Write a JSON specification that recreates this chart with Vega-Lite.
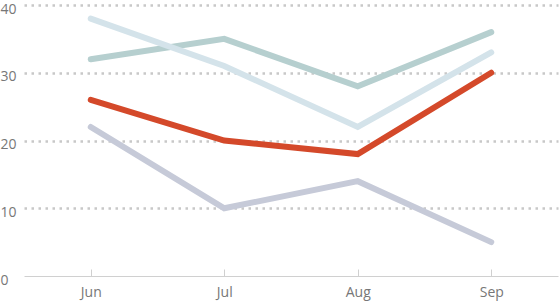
{
  "$schema": "https://vega.github.io/schema/vega-lite/v6.json",
  "width": 534,
  "height": 271,
  "autosize": {"type": "none"},
  "padding": {"left": 24, "top": 5, "right": 2, "bottom": 28},
  "background": "white",
  "config": {"view": {"stroke": null}, "font": "Open Sans"},
  "data": {
    "values": [
      {"month": "Jun", "series": "a", "value": 22},
      {"month": "Jul", "series": "a", "value": 10},
      {"month": "Aug", "series": "a", "value": 14},
      {"month": "Sep", "series": "a", "value": 5},
      {"month": "Jun", "series": "b", "value": 32},
      {"month": "Jul", "series": "b", "value": 35},
      {"month": "Aug", "series": "b", "value": 28},
      {"month": "Sep", "series": "b", "value": 36},
      {"month": "Jun", "series": "c", "value": 38},
      {"month": "Jul", "series": "c", "value": 31},
      {"month": "Aug", "series": "c", "value": 22},
      {"month": "Sep", "series": "c", "value": 33},
      {"month": "Jun", "series": "d", "value": 26},
      {"month": "Jul", "series": "d", "value": 20},
      {"month": "Aug", "series": "d", "value": 18},
      {"month": "Sep", "series": "d", "value": 30}
    ]
  },
  "mark": {"type": "line", "strokeWidth": 6, "strokeCap": "round", "strokeJoin": "miter"},
  "encoding": {
    "x": {
      "field": "month",
      "type": "ordinal",
      "sort": ["Jun", "Jul", "Aug", "Sep"],
      "scale": {"type": "point", "padding": 0.5},
      "axis": {
        "title": null,
        "grid": false,
        "domainColor": "#d0d0d0",
        "domainWidth": 1,
        "tickColor": "#d0d0d0",
        "tickSize": -7,
        "labelAngle": 0,
        "labelPadding": 16,
        "labelFontSize": 14,
        "labelColor": "#777777"
      }
    },
    "y": {
      "field": "value",
      "type": "quantitative",
      "scale": {"domain": [0, 40], "nice": false},
      "axis": {
        "title": null,
        "values": [0, 10, 20, 30, 40],
        "domain": false,
        "ticks": false,
        "gridColor": {"condition": {"test": "datum.value === 0", "value": "transparent"}, "value": "#c8c8c8"},
        "gridWidth": 2.5,
        "gridDash": [2.5, 4.5],
        "labelAlign": "left",
        "labelPadding": 24,
        "labelOffset": 4,
        "labelFontSize": 14,
        "labelColor": "#777777"
      }
    },
    "color": {
      "field": "series",
      "type": "nominal",
      "scale": {"domain": ["a", "b", "c", "d"], "range": ["#c6cad8", "#b6cfcf", "#d4e3ea", "#d4492a"]},
      "legend": null
    },
    "order": {"field": "series"}
  }
}
